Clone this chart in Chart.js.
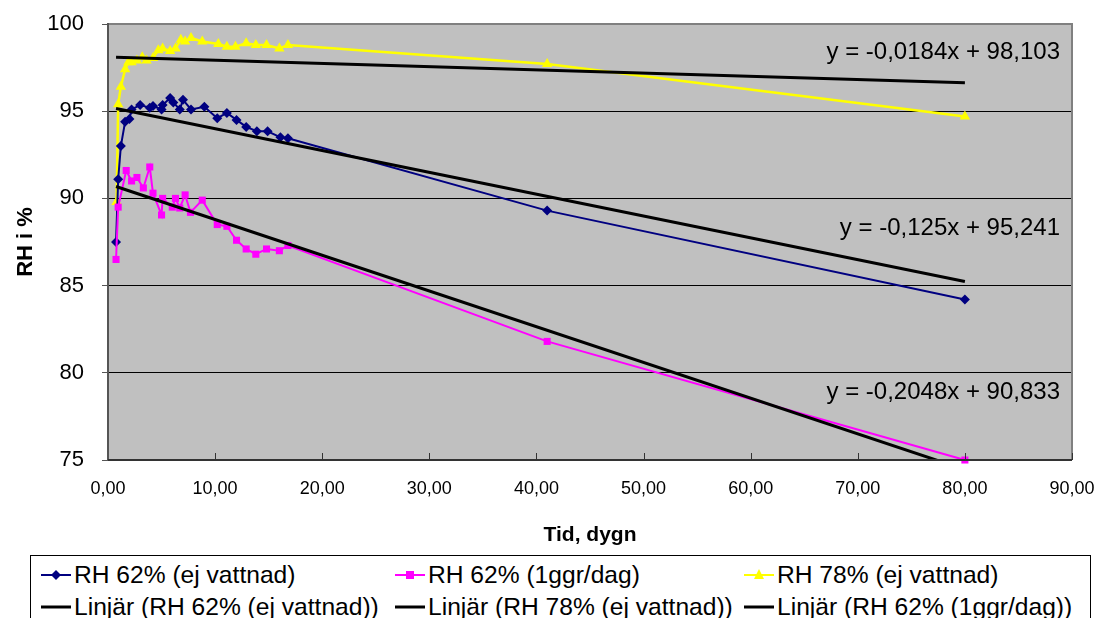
<!DOCTYPE html>
<html><head><meta charset="utf-8">
<script src="https://cdn.jsdelivr.net/npm/chart.js@4.4.1/dist/chart.umd.min.js"></script>
<style>
html,body{margin:0;padding:0;background:#fff;}
#wrap{position:relative;width:1105px;height:618px;overflow:hidden;font-family:"Liberation Sans",Arial,sans-serif;}
#cv{position:absolute;left:0;top:0;}
#legend{position:absolute;left:30px;top:555px;width:1059px;height:80px;border:1px solid #000;background:#fff;}
.li{position:absolute;font-size:24.6px;color:#000;white-space:nowrap;line-height:24px;}
.sw{position:absolute;}
</style></head>
<body><div id="wrap"><canvas id="cv" width="1105" height="548"></canvas><div id="legend"></div></div>
<script>
// Data (days, RH %)
const navyDays = [0.75,0.95,1.2,1.6,2.0,2.2,3.0,3.9,4.2,5.0,5.1,5.8,6.1,6.7,7.0,7.75,9.0,10.2,11.1,12.0,12.9,13.9,14.9,16.1,16.8,41,80];
const navyRH   = [87.5,91.1,93.0,94.4,94.55,95.1,95.35,95.2,95.3,95.1,95.35,95.75,95.5,95.1,95.65,95.1,95.25,94.6,94.9,94.5,94.1,93.85,93.85,93.5,93.45,89.3,84.2];
const pinkDays = [0.75,0.95,1.7,2.2,2.7,3.3,3.9,4.2,5.0,5.1,6.0,6.3,6.7,7.2,7.7,8.8,10.2,11.1,12.0,12.9,13.8,14.8,16.0,16.8,41,80];
const pinkRH   = [86.5,89.5,91.6,91.0,91.2,90.6,91.8,90.3,89.05,90.0,89.5,90.0,89.45,90.2,89.2,89.9,88.5,88.4,87.6,87.1,86.8,87.1,87.0,87.3,81.8,75.0];
const yelDays  = [0.8,0.95,1.2,1.6,1.9,2.2,2.7,3.2,3.6,4.2,4.7,5.1,5.8,6.3,6.8,7.2,7.75,8.8,10.3,11.1,11.9,12.9,13.8,14.8,16.0,16.8,41,80];
const yelRH    = [89.8,95.4,96.4,97.4,97.8,97.8,97.9,98.1,97.9,98.05,98.5,98.6,98.45,98.6,99.1,99.0,99.2,99.0,98.85,98.7,98.7,98.9,98.8,98.8,98.6,98.8,97.7,94.7];
// Trend lines (endpoints)
const trendNavyDays = [0.75,80], trendNavyRH = [95.15,85.24];
const trendYelDays  = [0.75,80], trendYelRH  = [98.09,96.63];
const trendPinkDays = [0.75,80], trendPinkRH = [90.68,74.45];
const seriesLabels = ["RH 62% (ej vattnad)","RH 62% (1ggr/dag)","RH 78% (ej vattnad)",
  "Linjär (RH 62% (ej vattnad))","Linjär (RH 78% (ej vattnad))","Linjär (RH 62% (1ggr/dag))"];
const equations = [
  {text:"y = -0,0184x + 98,103", v:98.39},
  {text:"y = -0,125x + 95,241", v:88.3},
  {text:"y = -0,2048x + 90,833", v:78.9}
];
const xTicks = [0,10,20,30,40,50,60,70,80,90];
const yTicks = [75,80,85,90,95,100];

const pts = (xs,ys)=>xs.map((x,i)=>({x:x,y:ys[i]}));
const FONT = "'Liberation Sans', Arial, sans-serif";

const bgPlugin = {
  id:'bg',
  beforeDraw(c){
    const a=c.chartArea, ctx=c.ctx;
    ctx.save(); ctx.fillStyle='#C0C0C0'; ctx.fillRect(a.left,a.top,a.right-a.left,a.bottom-a.top); ctx.restore();
  },
  afterDatasetsDraw(c){
    const a=c.chartArea, ctx=c.ctx, xs=c.scales.x;
    ctx.save();
    ctx.strokeStyle='#808080'; ctx.lineWidth=2;
    ctx.beginPath(); ctx.moveTo(a.left,a.top); ctx.lineTo(a.right,a.top); ctx.lineTo(a.right,a.bottom); ctx.stroke();
    ctx.strokeStyle='#555'; ctx.lineWidth=2;
    ctx.beginPath(); ctx.moveTo(a.left,a.top-1); ctx.lineTo(a.left,a.bottom); ctx.stroke();
    ctx.strokeStyle='#333'; ctx.lineWidth=2;
    ctx.beginPath(); ctx.moveTo(a.left,a.bottom); ctx.lineTo(a.right,a.bottom); ctx.stroke();
    ctx.strokeStyle='#333'; ctx.lineWidth=1;
    xTicks.forEach(v=>{ if(v===0) return; const px=Math.round(xs.getPixelForValue(v))+0.5;
      ctx.beginPath(); ctx.moveTo(px,a.bottom); ctx.lineTo(px,a.bottom-7); ctx.stroke(); });
    ctx.fillStyle='#000'; ctx.font='24px '+FONT; ctx.textAlign='right'; ctx.textBaseline='middle';
    equations.forEach(e=>{ ctx.fillText(e.text, 1060, c.scales.y.getPixelForValue(e.v)); });
    ctx.restore();
  }
};

const chart = new Chart(document.getElementById('cv'), {
  type:'line',
  data:{datasets:[
    {label:seriesLabels[3], data:pts(trendNavyDays,trendNavyRH), borderColor:'#000', borderWidth:3, pointRadius:0, order:0},
    {label:seriesLabels[4], data:pts(trendYelDays,trendYelRH), borderColor:'#000', borderWidth:3, pointRadius:0, order:0},
    {label:seriesLabels[5], data:pts(trendPinkDays,trendPinkRH), borderColor:'#000', borderWidth:3, pointRadius:0, order:0},
    {label:seriesLabels[0], data:pts(navyDays,navyRH), borderColor:'#000080', backgroundColor:'#000080', borderWidth:2, pointStyle:'rectRot', pointRadius:5, pointBorderWidth:0, order:2, clip:false},
    {label:seriesLabels[1], data:pts(pinkDays,pinkRH), borderColor:'#FF00FF', backgroundColor:'#FF00FF', borderWidth:2, pointStyle:'rect', pointRadius:5, pointBorderWidth:0, order:1, clip:false},
    {label:seriesLabels[2], data:pts(yelDays,yelRH), borderColor:'#FFFF00', backgroundColor:'#FFFF00', borderWidth:2.5, pointStyle:'triangle', pointRadius:6, pointBorderWidth:0, order:3, clip:false}
  ]},
  options:{
    responsive:false, animation:false,
    layout:{padding:{left:0,top:24,right:33,bottom:0}},
    plugins:{legend:{display:false}, tooltip:{enabled:false}},
    elements:{line:{tension:0}},
    scales:{
      x:{type:'linear', min:0, max:90,
        afterBuildTicks:(s)=>{ s.ticks = xTicks.map(v=>({value:v})); },
        afterFit:(s)=>{ s.height = 88; s.paddingLeft = 0; s.paddingRight = 0; },
        grid:{display:false, drawTicks:false},
        border:{display:false},
        ticks:{padding:18, color:'#000', font:{family:FONT,size:18}, maxRotation:0,
          callback:(v)=>v.toFixed(2).replace('.',',')},
        title:{display:true, text:'Tid, dygn', color:'#000', font:{family:FONT,size:21,weight:'bold'}, padding:{top:10,bottom:0}}
      },
      y:{min:75, max:100,
        afterBuildTicks:(s)=>{ s.ticks = yTicks.map(v=>({value:v})); },
        afterFit:(s)=>{ s.width = 108; s.paddingTop = 0; s.paddingBottom = 0; },
        grid:{color:'#000', lineWidth:1, tickLength:6, tickColor:'#555'},
        border:{display:false},
        ticks:{padding:18, color:'#000', font:{family:FONT,size:22}},
        title:{display:true, text:'RH i %', color:'#000', font:{family:FONT,size:22,weight:'bold'}, padding:{top:13,bottom:0}}
      }
    }
  },
  plugins:[bgPlugin]
});

// HTML legend
const lg = document.getElementById('legend');
const items = [
  {lab:seriesLabels[0], col:'#000080', mk:'diamond', x:8, y:7},
  {lab:seriesLabels[1], col:'#FF00FF', mk:'square', x:362, y:7},
  {lab:seriesLabels[2], col:'#FFFF00', mk:'triangle', x:711, y:7},
  {lab:seriesLabels[3], col:'#000', mk:'none', x:8, y:39},
  {lab:seriesLabels[4], col:'#000', mk:'none', x:362, y:39},
  {lab:seriesLabels[5], col:'#000', mk:'none', x:711, y:39}
];
items.forEach(it=>{
  const c=document.createElement('canvas'); c.width=34; c.height=24; c.className='sw';
  c.style.left=it.x+'px'; c.style.top=it.y+'px';
  const g=c.getContext('2d');
  g.strokeStyle=it.col; g.fillStyle=it.col; g.lineWidth= it.mk==='none'?3:2;
  g.beginPath(); g.moveTo(2,12); g.lineTo(32,12); g.stroke();
  if(it.mk==='diamond'){ g.beginPath(); g.moveTo(17,7); g.lineTo(22,12); g.lineTo(17,17); g.lineTo(12,12); g.closePath(); g.fill(); }
  if(it.mk==='square'){ g.fillRect(13,8,8,8); }
  if(it.mk==='triangle'){ g.beginPath(); g.moveTo(17,6); g.lineTo(22,16); g.lineTo(12,16); g.closePath(); g.fill(); }
  lg.appendChild(c);
  const d=document.createElement('div'); d.className='li'; d.textContent=it.lab;
  d.style.left=(it.x+35)+'px'; d.style.top=it.y+'px';
  lg.appendChild(d);
});
</script></body></html>
